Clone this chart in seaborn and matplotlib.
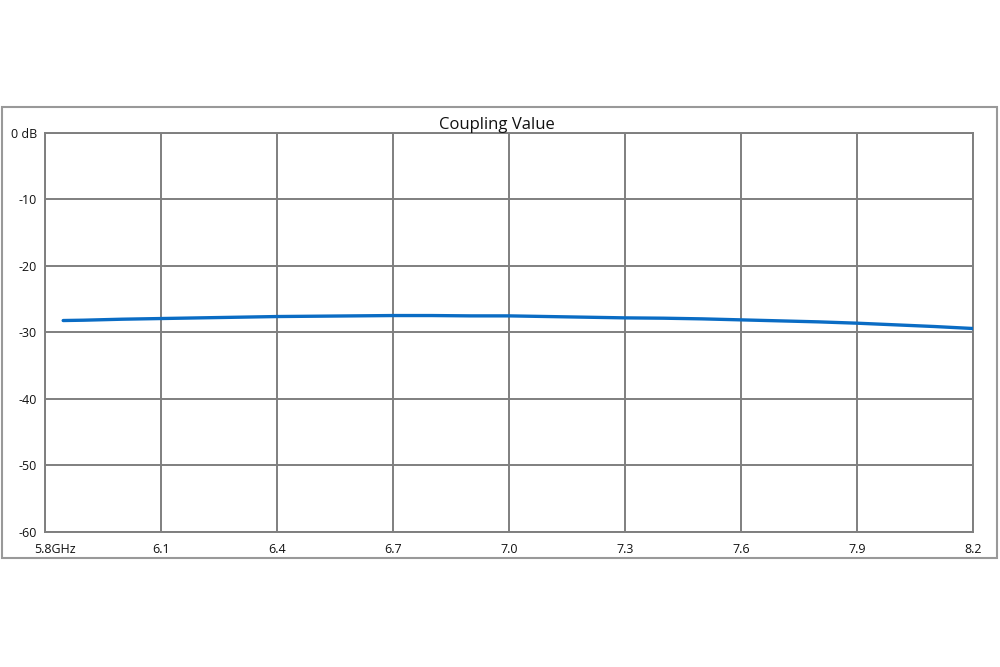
import matplotlib
matplotlib.use("Agg")
import matplotlib.pyplot as plt
import matplotlib.transforms as mtransforms
from matplotlib.patches import Rectangle
import seaborn as sns
import pandas as pd

freq_ghz = [5.847, 5.9, 6.0, 6.1, 6.2, 6.3, 6.4, 6.5, 6.6, 6.7, 6.8, 6.9, 7.0,
            7.1, 7.2, 7.3, 7.4, 7.5, 7.6, 7.7, 7.8, 7.9, 8.0, 8.1, 8.2]
coupling_db = [-28.2, -28.15, -28.0, -27.9, -27.8, -27.7, -27.6, -27.55, -27.5,
               -27.45, -27.45, -27.5, -27.5, -27.6, -27.7, -27.8, -27.85, -27.95,
               -28.1, -28.25, -28.4, -28.6, -28.85, -29.1, -29.4]
x_ticks = [5.8, 6.1, 6.4, 6.7, 7.0, 7.3, 7.6, 7.9, 8.2]
x_tick_labels = ["5.8GHz", "6.1", "6.4", "6.7", "7.0", "7.3", "7.6", "7.9", "8.2"]
y_ticks = [0, -10, -20, -30, -40, -50, -60]
y_tick_labels = ["0 dB", "-10", "-20", "-30", "-40", "-50", "-60"]

df = pd.DataFrame({"freq": freq_ghz, "db": coupling_db})

sns.set_style("white")
plt.rcParams["font.family"] = ["Open Sans", "DejaVu Sans"]

fig = plt.figure(figsize=(10, 6.67), dpi=100)
ax = fig.add_axes([0.045, 0.2024, 0.928, 0.5982])

grid_c = "#7f7f7f"
sns.lineplot(data=df, x="freq", y="db", ax=ax, color="#0a6cc4", linewidth=2.4, zorder=3)

ax.set_xlim(5.8, 8.2)
ax.set_ylim(-60, 0)
ax.set_xticks(x_ticks)
ax.set_xticklabels(x_tick_labels)
ax.set_yticks(y_ticks)
ax.set_yticklabels(y_tick_labels)
ax.grid(True, color=grid_c, linewidth=1.4, zorder=1)
ax.set_axisbelow(True)
for s in ax.spines.values():
    s.set_color(grid_c)
    s.set_linewidth(1.4)
ax.tick_params(axis="both", length=0, labelsize=9, colors="#111111")
ax.tick_params(axis="x", pad=8)
ax.tick_params(axis="y", pad=6)
ax.set_xlabel("")
ax.set_ylabel("")

# shift first x label right
offset = mtransforms.ScaledTranslation(10 / 100, 0, fig.dpi_scale_trans)
lbl0 = ax.get_xticklabels()[0]
lbl0.set_transform(lbl0.get_transform() + offset)

ax.set_title("Coupling Value", fontsize=12, color="#111111", pad=3, x=0.5 - 12 / 928)

fig.patches.append(Rectangle((0.002, 0.1634), 0.995, 0.676, transform=fig.transFigure,
                             fill=False, edgecolor="#999999", linewidth=1.5))

fig.savefig("out.png", dpi=100, facecolor="white")
